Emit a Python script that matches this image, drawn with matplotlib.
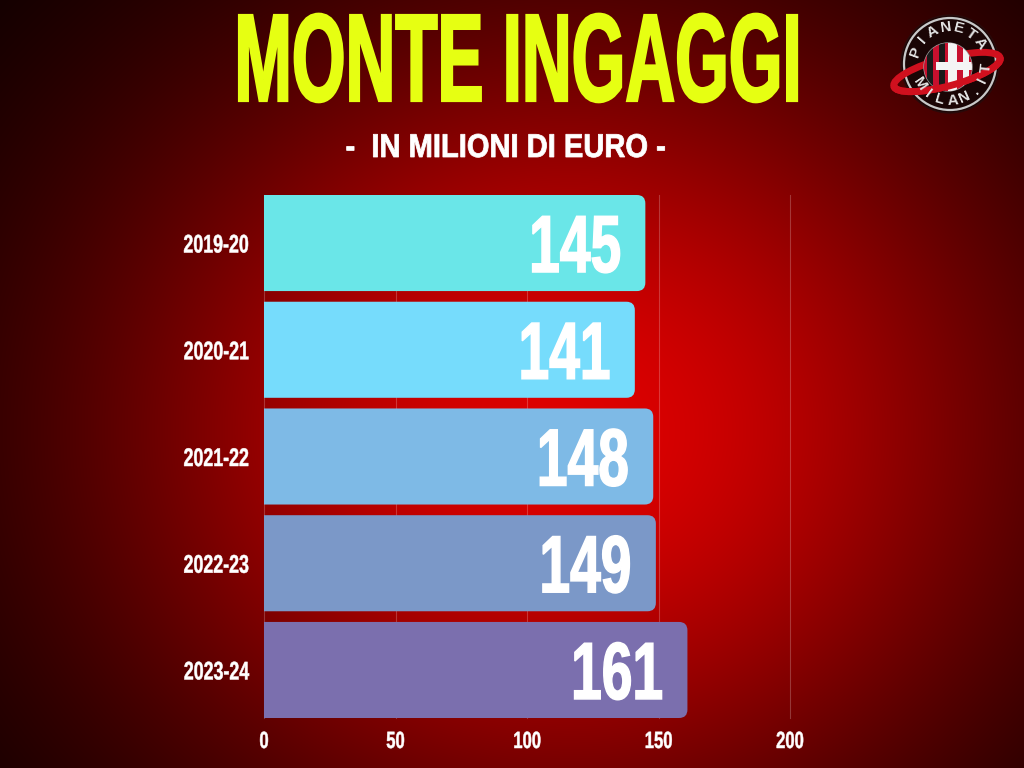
import numpy as np
import matplotlib
matplotlib.use('Agg')
import matplotlib.pyplot as plt
from matplotlib import font_manager
from matplotlib.font_manager import FontProperties
from matplotlib.patches import FancyBboxPatch, Circle, Ellipse, Rectangle, Arc
from matplotlib.patheffects import AbstractPathEffect
from matplotlib.transforms import Affine2D
from matplotlib.textpath import TextPath

# ---------------- data ----------------
seasons = ['2019-20', '2020-21', '2021-22', '2022-23', '2023-24']
values = [145, 141, 148, 149, 161]
bar_colors = ['#6ae6e8', '#76dcfc', '#7ebae6', '#7b98c8', '#7b6fae']
xticks = [0, 50, 100, 150, 200]
title = 'MONTE INGAGGI'
subtitle = '-  IN MILIONI DI EURO -'
logo_top = 'PIANETA'
logo_bottom = 'MILAN.IT'

# ---------------- fonts ----------------
names = {f.name for f in font_manager.fontManager.ttflist}
FONT = 'Liberation Sans Narrow' if 'Liberation Sans Narrow' in names else 'Liberation Sans'
FP = FontProperties(family=FONT, weight='bold')

W, H, DPI = 1024, 768, 100


class Squish(AbstractPathEffect):
    """Condense (and optionally stretch / embolden) a text glyph path; the text stays a Text artist."""
    def __init__(self, sx, anchor='center', sy=1.0, lw=0.0):
        super().__init__((0, 0))
        self.sx = sx
        self.sy = sy
        self.lw = lw
        self.anchor = anchor

    def draw_path(self, renderer, gc, tpath, affine, rgbFace=None):
        ext = tpath.get_extents()
        ref = {'center': (ext.x0 + ext.x1) / 2, 'right': ext.x1, 'left': ext.x0}[self.anchor]
        t = Affine2D().translate(-ref, 0).scale(self.sx, self.sy).translate(ref, 0) + affine
        if self.lw > 0 and rgbFace is not None:
            gc0 = renderer.new_gc()
            gc0.copy_properties(gc)
            gc0.set_linewidth(self.lw)
            gc0.set_foreground(rgbFace)
            gc0.set_joinstyle('miter')
            renderer.draw_path(gc0, tpath, t, rgbFace)
            gc0.restore()
        else:
            renderer.draw_path(gc, tpath, t, rgbFace)


def squish_for(s, size_px, target_px):
    w = TextPath((0, 0), s, size=size_px, prop=FP).get_extents().width
    return min(1.0, target_px / w)


def pt(px):
    return px * 72.0 / DPI


fig = plt.figure(figsize=(W / DPI, H / DPI), dpi=DPI)

# ---------------- background (radial gradient) ----------------
bg = fig.add_axes([0, 0, 1, 1], zorder=0)
bg.set_xlim(0, W)
bg.set_ylim(H, 0)
bg.axis('off')
yy, xx = np.mgrid[0:H, 0:W]
r2 = ((xx - 570) / 490.0) ** 2 + ((yy - 430) / 430.0) ** 2
v = 0.87 * np.exp(-r2)
img = np.zeros((H, W, 3))
img[..., 0] = v
bg.imshow(img, extent=(0, W, H, 0), aspect='auto', interpolation='bilinear')

# ---------------- logo ----------------
cx, cy = 950, 64
bg.add_patch(Circle((cx, cy), 49, facecolor='#1a0505', edgecolor='#2a0a0a', lw=1, zorder=2))
bg.add_patch(Circle((cx, cy), 46, facecolor='none', edgecolor='#c8c8c8', lw=1.6, zorder=3))
bg.add_patch(Ellipse((947, 72), 110, 28, angle=-15, facecolor='none', edgecolor='#d0101e', lw=5, zorder=3))
sph = Circle((948, 67), 24, facecolor='#f2f2f2', edgecolor='#999999', lw=1, zorder=4)
bg.add_patch(sph)
stripe_x = np.arange(921, 976, 6)
for i, sx0 in enumerate(stripe_x):
    col = '#c8102e' if i % 2 == 0 else '#1a1a1a'
    if sx0 > 946:
        col = '#c8102e' if i % 2 == 0 else '#f2f2f2'
    rr = Rectangle((sx0, 40), 6, 55, facecolor=col, edgecolor='none', zorder=4.1)
    rr.set_clip_path(sph)
    bg.add_patch(rr)
for (x0, y0, w0, h0) in [(948, 42, 8, 52), (936, 62, 40, 8)]:
    rr = Rectangle((x0, y0), w0, h0, facecolor='#f4f4f4', edgecolor='none', zorder=4.2)
    rr.set_clip_path(sph)
    bg.add_patch(rr)
bg.add_patch(Arc((947, 72), 110, 28, angle=-15, theta1=0, theta2=180, edgecolor='#d0101e', lw=5, zorder=5))
rad = 36.5
for i, ch in enumerate(logo_top):
    a = np.deg2rad(160 - i * 21)
    bg.text(cx + rad * np.cos(a), cy - rad * np.sin(a), ch, rotation=np.rad2deg(a) - 90,
            ha='center', va='center', color='#e4e4e4', fontsize=11, family='Liberation Sans',
            weight='bold', zorder=6, rotation_mode='anchor')
for i, ch in enumerate(logo_bottom):
    a = np.deg2rad(214 + i * 20)
    bg.text(cx + rad * np.cos(a), cy - rad * np.sin(a), ch, rotation=np.rad2deg(a) + 90,
            ha='center', va='center', color='#e4e4e4', fontsize=11, family='Liberation Sans',
            weight='bold', zorder=6, rotation_mode='anchor')

# ---------------- titles ----------------
t_px = 92
t_sy = 125 / t_px
fig.text(518 / W, 1 - 101 / H, title, ha='center', va='baseline', color='#e6ff12',
         fontproperties=FontProperties(family=FONT, weight='bold', size=pt(t_px)),
         path_effects=[Squish(squish_for(title, t_px, 558), 'center', t_sy, lw=pt(2.2))], zorder=5)
s_px = 33
fig.text(506 / W, 1 - 157 / H, subtitle, ha='center', va='baseline', color='white',
         fontproperties=FontProperties(family=FONT, weight='bold', size=pt(s_px)),
         path_effects=[Squish(squish_for(subtitle, s_px, 318), 'center', lw=pt(0.8))], zorder=5)

# ---------------- chart ----------------
ax_l, ax_r, ax_t, ax_b = 264, 790, 195, 718
ax = fig.add_axes([ax_l / W, 1 - ax_b / H, (ax_r - ax_l) / W, (ax_b - ax_t) / H], zorder=3)
ax.set_facecolor('none')
ypos = np.arange(len(seasons))
bar_h = 0.9
ax.set_xlim(0, 200)
ax.set_ylim(len(seasons) - 1 + bar_h / 2, -bar_h / 2)
for s in ax.spines.values():
    s.set_visible(False)

ax.set_xticks(xticks)
ax.set_xticklabels([str(t) for t in xticks])
ax.set_yticks(ypos)
ax.set_yticklabels(seasons)
ax.tick_params(length=0)
ax.tick_params(axis='x', pad=pt(12))
ax.tick_params(axis='y', pad=pt(15))
ax.grid(axis='x', color='white', alpha=0.22, lw=0.8)
ax.set_axisbelow(True)
for gl in ax.get_xgridlines():
    gl.set_clip_on(False)

xt_px = 23.5
sq_x = squish_for('150', xt_px, 26)
for lab in ax.get_xticklabels():
    lab.set_fontproperties(FontProperties(family=FONT, weight='bold', size=pt(xt_px)))
    lab.set_color('white')
    lab.set_path_effects([Squish(sq_x, 'center', lw=pt(0.5))])
yt_px = 25.5
sq_y = squish_for('2019-20', yt_px, 64)
for lab in ax.get_yticklabels():
    lab.set_fontproperties(FontProperties(family=FONT, weight='bold', size=pt(yt_px)))
    lab.set_color('white')
    lab.set_path_effects([Squish(sq_y, 'right', lw=pt(0.5))])

bars = ax.barh(ypos, values, height=bar_h, color=bar_colors)
px_per_x = (ax_r - ax_l) / 200.0
px_per_y = (ax_b - ax_t) / (len(seasons) - 1 + bar_h)
aspect = px_per_x / px_per_y
for rect, col in zip(bars, bar_colors):
    rect.set_visible(False)
    x0, y0, w0, h0 = rect.get_x(), rect.get_y(), rect.get_width(), rect.get_height()
    fb = FancyBboxPatch((x0 - 6, y0), w0 + 6, h0,
                        boxstyle='round,pad=0,rounding_size=3.2',
                        mutation_aspect=aspect, facecolor=col, edgecolor='none', zorder=2)
    ax.add_patch(fb)

v_px = 81
sq_v = squish_for('145', v_px, 87)
for y, val in zip(ypos, values):
    ax.annotate(str(val), xy=(val, y), xytext=(pt(-23.5), pt(-29)), textcoords='offset points',
                ha='right', va='baseline', color='white',
                fontproperties=FontProperties(family=FONT, weight='bold', size=pt(v_px)),
                path_effects=[Squish(sq_v, 'right', lw=pt(1.5))], zorder=4)

fig.savefig('out.png', dpi=DPI)
